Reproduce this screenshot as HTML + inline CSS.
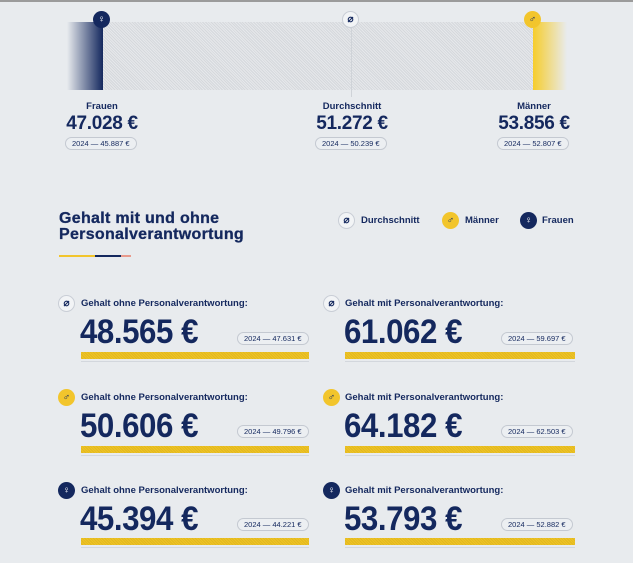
<!DOCTYPE html>
<html><head><meta charset="utf-8"><style>
*{margin:0;padding:0;box-sizing:border-box}
body{width:633px;height:563px;background:#e8ebee;font-family:"Liberation Sans",sans-serif;color:#14285e;position:relative;overflow:hidden}
.a{position:absolute}
.ic{position:absolute;width:17px;height:17px;border-radius:50%;font-size:10px;line-height:17px;text-align:center;font-weight:bold}
.avg{background:#f2f4f6;border:1px solid #c9ced6;color:#14285e;line-height:15px}
.m{background:#f2c52c;color:#14285e}
.f{background:#14285e;color:#fff}
.pill{position:absolute;height:13px;border:1px solid #c4c9d1;border-radius:7px;font-size:7.5px;line-height:11px;padding:0 6px;color:#14285e;background:#eceff2;white-space:nowrap}
.lbl{position:absolute;font-size:9.5px;font-weight:bold;text-align:center;width:120px}
.val{position:absolute;font-size:19px;font-weight:bold;text-align:center;width:120px;letter-spacing:-0.3px}
.ct{position:absolute;font-size:9.5px;font-weight:bold;white-space:nowrap}
.cv{position:absolute;font-size:34px;font-weight:bold;letter-spacing:-0.5px;line-height:33px;transform:scaleX(0.92);transform-origin:left}
.bar{position:absolute;height:7px;background:repeating-linear-gradient(45deg,#eec325 0 1px,#e2b81f 1px 2px)}
.ul{position:absolute;height:1px;background:#d3d7dd}
</style></head><body>
<div class="a" style="left:0;top:0;width:633px;height:2px;background:#9b9b9b"></div>
<div class="a" style="left:67px;top:22px;width:36px;height:68px;background:linear-gradient(90deg,rgba(20,40,94,0),#14285e)"></div>
<div class="a" style="left:103px;top:22px;width:430px;height:68px;background:repeating-linear-gradient(45deg,#d5d8dc 0 1px,#e6e8eb 1px 2px)"></div>
<div class="a" style="left:533px;top:22px;width:34px;height:68px;background:linear-gradient(90deg,#f6cd2c,rgba(246,205,44,0))"></div>
<div class="a" style="left:351px;top:22px;width:1px;height:75px;background:#cfd3d8"></div>
<div class="ic f" style="left:93px;top:11px">♀</div>
<div class="ic avg" style="left:342px;top:11px">⌀</div>
<div class="ic m" style="left:524px;top:11px">♂</div>
<div class="lbl" style="left:42px;top:101px">Frauen</div>
<div class="val" style="left:42px;top:113px">47.028 €</div>
<div class="pill" style="left:65px;top:137px">2024 — 45.887 €</div>
<div class="lbl" style="left:292px;top:101px">Durchschnitt</div>
<div class="val" style="left:292px;top:113px">51.272 €</div>
<div class="pill" style="left:315px;top:137px">2024 — 50.239 €</div>
<div class="lbl" style="left:474px;top:101px">Männer</div>
<div class="val" style="left:474px;top:113px">53.856 €</div>
<div class="pill" style="left:497px;top:137px">2024 — 52.807 €</div>

<div class="a" style="left:59px;top:211px;font-size:16px;font-weight:bold;line-height:16px;letter-spacing:0.3px;-webkit-text-stroke:0.3px #14285e">Gehalt mit und ohne<br>Personalverantwortung</div>
<div class="a" style="left:59px;top:255px;width:36px;height:2px;background:#f2c52c"></div>
<div class="a" style="left:95px;top:255px;width:26px;height:2px;background:#14285e"></div>
<div class="a" style="left:121px;top:255px;width:10px;height:2px;background:#e89a8c"></div>
<div class="ic avg" style="left:338px;top:212px">⌀</div>
<div class="ct" style="left:361px;top:215px">Durchschnitt</div>
<div class="ic m" style="left:442px;top:212px">♂</div>
<div class="ct" style="left:465px;top:215px">Männer</div>
<div class="ic f" style="left:520px;top:212px">♀</div>
<div class="ct" style="left:542px;top:215px">Frauen</div>

<div class="ic avg" style="left:58px;top:295px">⌀</div>
<div class="ct" style="left:81px;top:298px">Gehalt ohne Personalverantwortung:</div>
<div class="cv" style="left:80px;top:316px">48.565 €</div>
<div class="pill" style="left:237px;top:332px">2024 — 47.631 €</div>
<div class="bar" style="left:81px;top:352px;width:228px"></div><div class="ul" style="left:81px;top:361px;width:228px"></div>

<div class="ic avg" style="left:323px;top:295px">⌀</div>
<div class="ct" style="left:345px;top:298px">Gehalt mit Personalverantwortung:</div>
<div class="cv" style="left:344px;top:316px">61.062 €</div>
<div class="pill" style="left:501px;top:332px">2024 — 59.697 €</div>
<div class="bar" style="left:345px;top:352px;width:230px"></div><div class="ul" style="left:345px;top:361px;width:230px"></div>

<div class="ic m" style="left:58px;top:389px">♂</div>
<div class="ct" style="left:81px;top:392px">Gehalt ohne Personalverantwortung:</div>
<div class="cv" style="left:80px;top:410px">50.606 €</div>
<div class="pill" style="left:237px;top:425px">2024 — 49.796 €</div>
<div class="bar" style="left:81px;top:446px;width:228px"></div><div class="ul" style="left:81px;top:455px;width:228px"></div>

<div class="ic m" style="left:323px;top:389px">♂</div>
<div class="ct" style="left:345px;top:392px">Gehalt mit Personalverantwortung:</div>
<div class="cv" style="left:344px;top:410px">64.182 €</div>
<div class="pill" style="left:501px;top:425px">2024 — 62.503 €</div>
<div class="bar" style="left:345px;top:446px;width:230px"></div><div class="ul" style="left:345px;top:455px;width:230px"></div>

<div class="ic f" style="left:58px;top:482px">♀</div>
<div class="ct" style="left:81px;top:485px">Gehalt ohne Personalverantwortung:</div>
<div class="cv" style="left:80px;top:503px">45.394 €</div>
<div class="pill" style="left:237px;top:518px">2024 — 44.221 €</div>
<div class="bar" style="left:81px;top:538px;width:228px"></div><div class="ul" style="left:81px;top:547px;width:228px"></div>

<div class="ic f" style="left:323px;top:482px">♀</div>
<div class="ct" style="left:345px;top:485px">Gehalt mit Personalverantwortung:</div>
<div class="cv" style="left:344px;top:503px">53.793 €</div>
<div class="pill" style="left:501px;top:518px">2024 — 52.882 €</div>
<div class="bar" style="left:345px;top:538px;width:230px"></div><div class="ul" style="left:345px;top:547px;width:230px"></div>
</body></html>
